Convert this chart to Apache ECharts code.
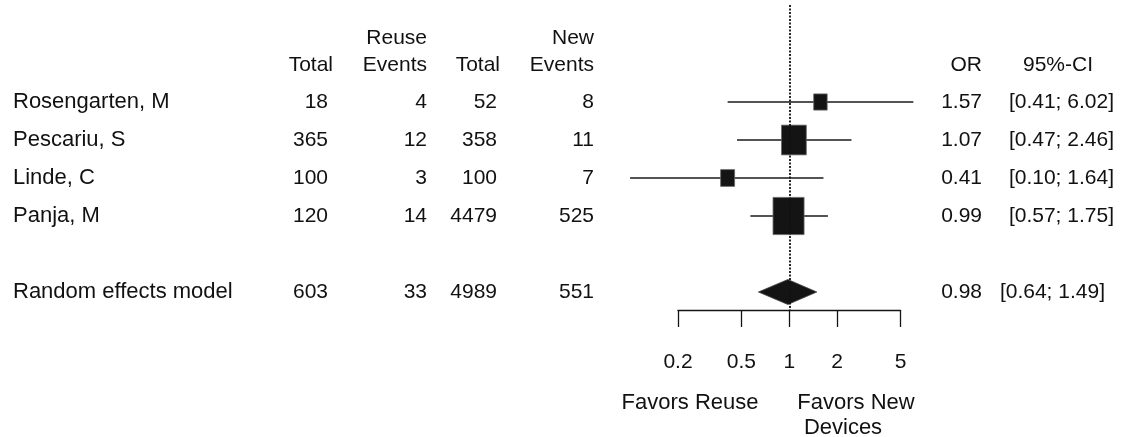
<!DOCTYPE html>
<html>
<head>
<meta charset="utf-8">
<script src="https://cdn.jsdelivr.net/npm/echarts@6/dist/echarts.min.js"></script>
<style>
html,body{margin:0;padding:0;background:#ffffff;}
#chart{width:1122px;height:437px;}
</style>
</head>
<body>
<div id="chart"></div>
<script>
// ---------------- DATA ----------------
const studies = ['Rosengarten, M', 'Pescariu, S', 'Linde, C', 'Panja, M'];
const reuseTotal = [18, 365, 100, 120];
const reuseEvents = [4, 12, 3, 14];
const newTotal = [52, 358, 100, 4479];
const newEvents = [8, 11, 7, 525];
const orValues = [1.57, 1.07, 0.41, 0.99];
const ciLower = [0.41, 0.47, 0.10, 0.57];
const ciUpper = [6.02, 2.46, 1.64, 1.75];
const weights = [9.3, 31.4, 10.0, 49.3];

const pooledLabel = 'Random effects model';
const pooledCounts = [603, 33, 4989, 551];
const pooledOR = 0.98;
const pooledLower = 0.64;
const pooledUpper = 1.49;

const headerTop = ['', 'Reuse', '', 'New'];
const headerBottom = ['Total', 'Events', 'Total', 'Events'];
const effectHeaders = ['OR', '95%-CI'];

const tickValues = [0.2, 0.5, 1, 2, 5];
const tickLabels = ['0.2', '0.5', '1', '2', '5'];
const refValue = 1;
const favorsLeft = 'Favors Reuse';
const favorsRight = ['Favors New', 'Devices'];

// ---------------- LAYOUT / STYLE ----------------
const FONT_FAMILY = '"Liberation Sans", Arial, Helvetica, sans-serif';
const FS = 21;
const LABEL_FS = 22;
const TEXT_COLOR = '#111111';
const INK = '#141414';
const layout = {
  labelLeft: 13,
  numRight: [328, 427, 497, 594],
  headRight: [333, 427, 500, 594],
  orRight: 982,
  ciRight: 1114,
  ciHeadCenter: 1058,
  pooledCiRight: 1105,
  headerRowTop: -1.68,
  headerRowBottom: -0.98,
  pooledRow: 5,
  squareScale: 4.42,
  squareAspect: 1.2,
  diamondHalfHeight: 12.5
};

const fmt2 = v => v.toFixed(2);
const ciText = (lo, hi) => '[' + fmt2(lo) + '; ' + fmt2(hi) + ']';

// table rows built from the arrays
const tableItems = [];
tableItems.push({ row: layout.headerRowTop, kind: 'headTop' });
tableItems.push({ row: layout.headerRowBottom, kind: 'headBottom' });
studies.forEach((name, i) => {
  tableItems.push({
    row: i, kind: 'study',
    label: name,
    nums: [reuseTotal[i], reuseEvents[i], newTotal[i], newEvents[i]],
    or: fmt2(orValues[i]),
    ci: ciText(ciLower[i], ciUpper[i])
  });
});
tableItems.push({
  row: layout.pooledRow, kind: 'pooled',
  label: pooledLabel,
  nums: pooledCounts,
  or: fmt2(pooledOR),
  ci: ciText(pooledLower, pooledUpper)
});

function textEl(x, y, text, align, size) {
  return {
    type: 'text', x: x, y: y,
    style: {
      text: String(text), x: 0, y: 0,
      fill: TEXT_COLOR,
      font: (size || FS) + 'px ' + FONT_FAMILY,
      textAlign: align, textVerticalAlign: 'middle',
      align: align, verticalAlign: 'middle'
    }
  };
}

const chart = echarts.init(document.getElementById('chart'), null, { renderer: 'canvas' });

const option = {
  animation: false,
  backgroundColor: '#ffffff',
  grid: { left: 678, top: 5, width: 222.5, height: 305, containLabel: false, outerBoundsMode: 'none' },
  xAxis: {
    type: 'log', logBase: 10, min: 0.2, max: 5,
    axisLine: { show: true, onZero: false, lineStyle: { color: INK, width: 1.3 } },
    axisTick: { show: true, inside: false, length: 17, customValues: tickValues, lineStyle: { color: INK, width: 1.3 } },
    axisLabel: {
      show: true, customValues: tickValues, margin: 42,
      color: TEXT_COLOR, fontSize: FS, fontFamily: FONT_FAMILY,
      formatter: function (v) {
        const idx = tickValues.findIndex(t => Math.abs(t - v) < 1e-6);
        return idx >= 0 ? tickLabels[idx] : '';
      }
    },
    splitLine: { show: false },
    minorTick: { show: false },
    minorSplitLine: { show: false }
  },
  yAxis: {
    type: 'value', inverse: true, min: -2.553, max: 5.474, show: false,
    splitLine: { show: false }
  },
  graphic: [
    { type: 'text', x: 690, y: 403, style: { text: favorsLeft, fill: TEXT_COLOR, font: LABEL_FS + 'px ' + FONT_FAMILY, textAlign: 'center', textVerticalAlign: 'middle', align: 'center', verticalAlign: 'middle' } },
    { type: 'text', x: 856, y: 403, style: { text: favorsRight[0], fill: TEXT_COLOR, font: LABEL_FS + 'px ' + FONT_FAMILY, textAlign: 'center', textVerticalAlign: 'middle', align: 'center', verticalAlign: 'middle' } },
    { type: 'text', x: 843, y: 428, style: { text: favorsRight[1], fill: TEXT_COLOR, font: LABEL_FS + 'px ' + FONT_FAMILY, textAlign: 'center', textVerticalAlign: 'middle', align: 'center', verticalAlign: 'middle' } }
  ],
  series: [
    {
      name: 'ref', type: 'line', data: [], z: 1, silent: true,
      markLine: {
        silent: true, symbol: ['none', 'none'], label: { show: false },
        lineStyle: { color: '#111', width: 1.8, type: [2, 1.5] },
        data: [{ xAxis: refValue }]
      }
    },
    {
      name: 'studies', type: 'custom', z: 3, clip: false, silent: true,
      encode: { x: [0, 1, 2], y: 4 },
      data: studies.map((_, i) => [orValues[i], ciLower[i], ciUpper[i], weights[i], i]),
      renderItem: function (params, api) {
        const row = api.value(4);
        const pLo = api.coord([api.value(1), row]);
        const pHi = api.coord([api.value(2), row]);
        const pC = api.coord([api.value(0), row]);
        const sw = layout.squareScale * Math.sqrt(api.value(3));
        const sh = sw * layout.squareAspect;
        return {
          type: 'group',
          children: [
            { type: 'line', shape: { x1: pLo[0], y1: pLo[1], x2: pHi[0], y2: pHi[1] }, style: { stroke: '#1a1a1a', lineWidth: 1.4 } },
            { type: 'rect', shape: { x: pC[0] - sw / 2, y: pC[1] - sh / 2, width: sw, height: sh }, style: { fill: INK, stroke: '#666', lineWidth: 0.8 } }
          ]
        };
      }
    },
    {
      name: 'pooled', type: 'custom', z: 3, clip: false, silent: true,
      encode: { x: [0, 1, 2], y: 3 },
      data: [[pooledOR, pooledLower, pooledUpper, layout.pooledRow]],
      renderItem: function (params, api) {
        const row = api.value(3);
        const pLo = api.coord([api.value(1), row]);
        const pHi = api.coord([api.value(2), row]);
        const pC = api.coord([api.value(0), row]);
        const h = layout.diamondHalfHeight;
        return {
          type: 'polygon',
          shape: { points: [[pLo[0], pLo[1]], [pC[0], pC[1] - h], [pHi[0], pHi[1]], [pC[0], pC[1] + h]] },
          style: { fill: INK, stroke: '#444', lineWidth: 0.8 }
        };
      }
    },
    {
      name: 'table', type: 'custom', z: 2, clip: false, silent: true,
      encode: { x: 0, y: 1 },
      data: tableItems.map(t => [1, t.row]),
      renderItem: function (params, api) {
        const item = tableItems[params.dataIndex];
        const y = api.coord([1, api.value(1)])[1];
        const children = [];
        if (item.kind === 'headTop') {
          headerTop.forEach((h, c) => { if (h) children.push(textEl(layout.headRight[c], y, h, 'right')); });
        } else if (item.kind === 'headBottom') {
          headerBottom.forEach((h, c) => children.push(textEl(layout.headRight[c], y, h, 'right')));
          children.push(textEl(layout.orRight, y, effectHeaders[0], 'right'));
          children.push(textEl(layout.ciHeadCenter, y, effectHeaders[1], 'center'));
        } else {
          children.push(textEl(layout.labelLeft, y, item.label, 'left', LABEL_FS));
          item.nums.forEach((n, c) => children.push(textEl(layout.numRight[c], y, n, 'right')));
          children.push(textEl(layout.orRight, y, item.or, 'right'));
          children.push(textEl(item.kind === 'pooled' ? layout.pooledCiRight : layout.ciRight, y, item.ci, 'right'));
        }
        return { type: 'group', children: children };
      }
    }
  ]
};

chart.setOption(option);
</script>
</body>
</html>
